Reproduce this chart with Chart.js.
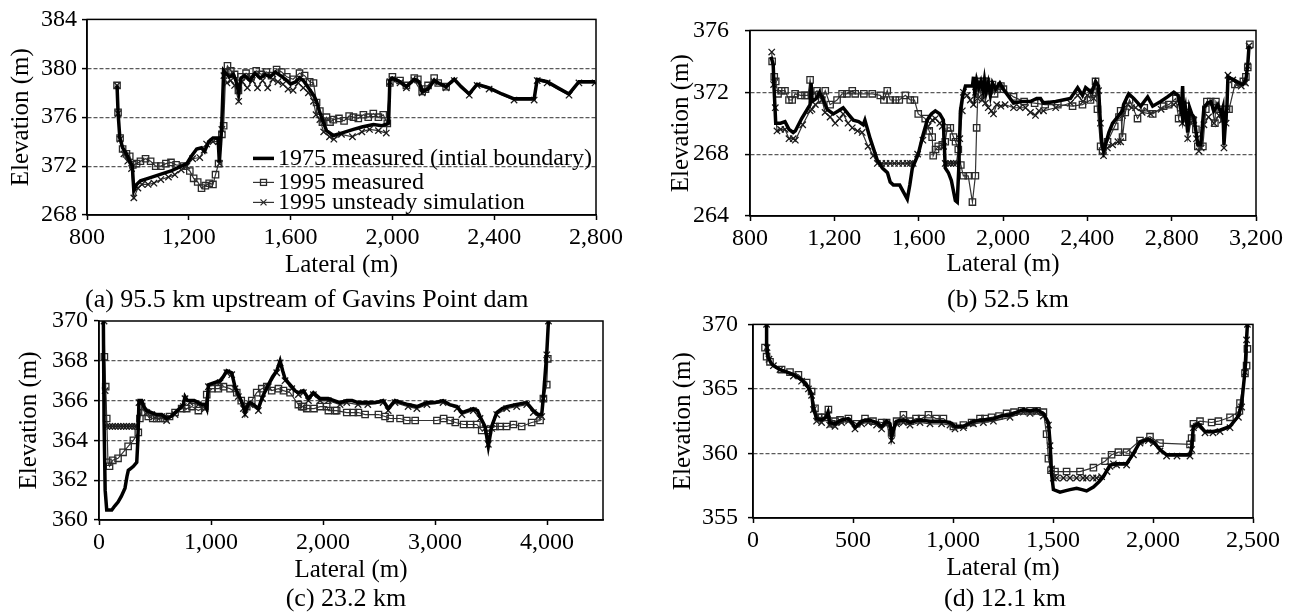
<!DOCTYPE html>
<html>
<head>
<meta charset="utf-8">
<script src="https://cdn.jsdelivr.net/npm/chart.js@4.4.0/dist/chart.umd.min.js"></script>
<style>
  body { margin:0; background:#fff; width:1291px; height:615px; position:relative; overflow:hidden; font-family:'Liberation Serif','Times New Roman',serif; }
  canvas { position:absolute; }
  .cap { position:absolute; font-size:26px; line-height:30px; white-space:nowrap; color:#000; }
</style>
</head>
<body>
<canvas id="chartA" width="645" height="300" style="left:0;top:0"></canvas>
<canvas id="chartB" width="646" height="300" style="left:645px;top:0"></canvas>
<canvas id="chartC" width="645" height="315" style="left:0;top:300px"></canvas>
<canvas id="chartD" width="646" height="315" style="left:645px;top:300px"></canvas>
<div class="cap" style="left:85px;top:284px">(a) 95.5 km upstream of Gavins Point dam</div>
<div class="cap" style="left:1008px;top:284px;transform:translateX(-50%)">(b) 52.5 km</div>
<div class="cap" style="left:346px;top:583px;transform:translateX(-50%)">(c) 23.2 km</div>
<div class="cap" style="left:1005px;top:583px;transform:translateX(-50%)">(d) 12.1 km</div>
<script>
const seriesNames = ['1975 measured (intial boundary)', '1995 measured', '1995 unsteady simulation'];

// (a) 95.5 km
const xTicksA = [800, 1200, 1600, 2000, 2400, 2800];
const yTicksA = [368, 372, 376, 380, 384];
const yLabelsA = ['268', '372', '376', '380', '384'];
const a1975 = [[918,378.6],[922,376.4],[929,374.3],[940,373.5],[955,373.0],[968,372.4],[978,372.0],[984,370.0],[995,370.5],[1010,370.8],[1040,371.0],[1070,371.2],[1100,371.4],[1130,371.6],[1160,371.9],[1192,372.2],[1210,372.8],[1231,373.4],[1250,373.5],[1262,373.2],[1278,374.0],[1295,374.3],[1315,374.3],[1320,372.3],[1329,375.1],[1337,379.8],[1345,379.6],[1360,379.3],[1375,379.5],[1385,379.0],[1396,378.0],[1405,379.2],[1420,379.4],[1440,379.0],[1460,379.6],[1480,379.2],[1500,379.5],[1520,379.3],[1540,379.7],[1560,379.4],[1580,379.1],[1600,378.7],[1620,378.9],[1635,379.2],[1650,379.0],[1670,378.4],[1690,377.8],[1702,377.3],[1713,376.5],[1725,375.8],[1741,374.9],[1768,374.5],[1800,374.7],[1847,375.0],[1880,375.2],[1925,375.4],[1960,375.3],[1985,375.5],[1990,379.0],[1999,379.2],[2030,378.9],[2055,378.5],[2086,379.1],[2105,378.9],[2117,378.1],[2140,378.3],[2164,379.0],[2190,378.7],[2211,378.5],[2243,379.1],[2270,378.5],[2302,377.9],[2333,378.7],[2380,378.4],[2430,377.9],[2478,377.5],[2530,377.5],[2557,377.5],[2569,379.1],[2608,378.9],[2650,378.4],[2694,377.9],[2733,378.9],[2796,378.9]];
const a1995 = [[918,378.6],[922,376.4],[930,374.3],[940,373.4],[955,373.0],[968,372.8],[980,372.1],[995,372.2],[1010,372.4],[1030,372.6],[1050,372.4],[1070,372.0],[1090,372.0],[1110,372.2],[1130,372.3],[1150,372.1],[1180,372.0],[1204,371.6],[1219,371.0],[1235,370.7],[1250,370.2],[1265,370.4],[1280,370.6],[1295,370.5],[1305,371.3],[1317,372.2],[1330,374.6],[1337,375.3],[1345,379.7],[1352,380.2],[1365,379.8],[1380,379.5],[1395,378.2],[1405,379.3],[1425,379.6],[1445,379.3],[1465,379.8],[1485,379.5],[1505,379.7],[1525,379.4],[1545,379.9],[1565,379.7],[1585,379.3],[1610,379.1],[1635,379.6],[1655,379.4],[1675,378.9],[1690,378.8],[1702,377.2],[1715,376.5],[1725,375.6],[1741,376.0],[1755,375.6],[1768,375.8],[1790,375.9],[1810,375.7],[1830,376.1],[1847,376.0],[1866,375.9],[1886,376.2],[1905,376.0],[1925,376.3],[1945,376.0],[1964,376.2],[1980,375.5],[1990,378.8],[2000,379.3],[2030,379.0],[2055,378.6],[2086,379.2],[2100,379.1],[2117,378.1],[2130,378.3],[2140,378.6],[2164,379.2],[2180,378.8],[2211,378.5]];
const aSim = [[918,378.6],[922,376.3],[930,374.2],[945,373.0],[960,372.4],[975,371.8],[984,369.4],[1000,370.2],[1016,370.5],[1040,370.5],[1063,370.6],[1090,370.9],[1120,371.1],[1145,371.3],[1170,371.7],[1192,372.0],[1215,372.6],[1243,372.7],[1260,373.3],[1270,373.8],[1295,374.0],[1317,374.0],[1321,372.2],[1330,375.0],[1338,379.4],[1350,378.8],[1365,379.0],[1380,378.6],[1396,377.3],[1410,378.9],[1430,378.4],[1450,379.0],[1470,378.4],[1490,379.0],[1510,378.4],[1530,379.1],[1550,378.9],[1570,378.7],[1590,378.3],[1610,378.2],[1630,378.8],[1650,378.4],[1670,378.0],[1690,377.3],[1700,376.2],[1715,375.8],[1730,374.8],[1753,374.4],[1770,374.2],[1800,374.6],[1843,374.4],[1880,374.8],[1910,375.0],[1945,374.9],[1976,374.7],[1990,378.9],[2000,379.1],[2030,378.8],[2055,378.4],[2086,379.0],[2117,378.0],[2164,378.9],[2211,378.4],[2243,379.0],[2302,377.8],[2333,378.6],[2380,378.3],[2478,377.4],[2557,377.4],[2569,379.0],[2608,378.8],[2694,377.8],[2733,378.8],[2796,378.8]];

// (b) 52.5 km
const xTicksB = [800, 1200, 1600, 2000, 2400, 2800, 3200];
const yTicksB = [364, 368, 372, 376];
const yLabelsB = ['264', '268', '372', '376'];
const b1975 = [[900,374.3],[910,373.8],[915,372.0],[922,370.0],[945,370.0],[966,370.1],[985,369.6],[1005,369.4],[1015,369.5],[1045,370.3],[1085,371.2],[1090,372.6],[1095,371.4],[1115,371.6],[1130,372.0],[1142,371.7],[1166,370.9],[1195,370.6],[1220,370.8],[1242,371.0],[1265,370.6],[1290,370.2],[1315,370.1],[1337,369.9],[1345,370.2],[1370,369.0],[1404,367.6],[1428,367.1],[1452,366.8],[1465,366.2],[1480,366.0],[1510,366.0],[1530,365.5],[1546,365.1],[1558,366.0],[1570,367.1],[1598,368.0],[1620,369.2],[1641,370.2],[1660,370.6],[1679,370.8],[1700,370.6],[1717,370.2],[1722,368.5],[1726,367.1],[1741,366.8],[1755,366.3],[1774,365.0],[1783,364.9],[1790,367.0],[1798,370.8],[1808,371.7],[1822,372.4],[1840,372.4],[1855,372.4],[1860,373.0],[1866,372.0],[1875,372.8],[1885,372.3],[1895,372.7],[1905,372.1],[1912,372.8],[1920,372.0],[1930,372.6],[1940,371.8],[1950,372.6],[1965,372.2],[1985,372.6],[2002,372.2],[2050,371.3],[2090,371.4],[2130,371.4],[2160,371.6],[2178,371.6],[2192,371.3],[2250,371.4],[2320,371.6],[2354,372.3],[2377,371.8],[2392,372.3],[2420,372.0],[2439,372.7],[2453,372.4],[2460,370.5],[2468,368.8],[2477,368.2],[2490,368.8],[2502,369.4],[2520,370.0],[2543,370.4],[2567,370.8],[2572,371.2],[2596,371.9],[2620,371.6],[2653,371.1],[2686,371.7],[2710,371.1],[2748,371.4],[2780,371.7],[2810,372.0],[2830,371.8],[2845,370.8],[2852,372.4],[2857,370.5],[2865,371.0],[2876,369.4],[2885,371.0],[2895,370.6],[2905,370.4],[2915,369.5],[2924,368.6],[2938,368.6],[2953,371.0],[2970,371.3],[2986,371.4],[3000,370.8],[3019,371.2],[3035,370.6],[3043,371.0],[3048,368.6],[3055,370.0],[3062,371.0],[3067,373.0],[3080,372.9],[3095,372.8],[3120,372.6],[3137,372.5],[3152,372.8],[3161,373.8],[3167,375.0]];
const b1995 = [[905,374.0],[915,373.0],[922,372.7],[933,371.9],[950,372.1],[966,372.1],[985,371.5],[1000,371.5],[1014,371.9],[1040,371.8],[1061,371.8],[1075,371.8],[1085,372.8],[1095,371.8],[1118,372.1],[1140,371.5],[1157,372.1],[1180,371.2],[1213,371.5],[1237,371.9],[1260,371.9],[1285,372.1],[1299,371.9],[1340,371.9],[1380,371.9],[1418,371.8],[1435,371.5],[1451,372.1],[1465,371.5],[1490,371.5],[1508,371.5],[1537,371.8],[1560,371.5],[1580,371.5],[1598,370.6],[1631,370.3],[1650,369.5],[1664,369.1],[1669,367.9],[1680,368.3],[1693,368.5],[1712,368.6],[1726,368.8],[1736,369.7],[1750,369.7],[1765,369.1],[1775,368.8],[1788,368.3],[1800,367.3],[1812,366.6],[1835,366.6],[1855,364.9],[1869,366.6],[1875,369.7],[1883,372.7],[1893,372.3],[1908,372.7],[1921,372.7],[1935,372.1],[1950,372.5],[1960,371.9],[1973,372.2],[1990,372.4],[2002,372.2],[2050,371.7],[2100,371.4],[2150,371.3],[2200,371.2],[2260,371.2],[2330,371.1],[2377,371.2],[2415,371.5],[2430,372.0],[2439,372.7],[2448,370.9],[2463,368.5],[2472,368.2],[2496,368.8],[2530,369.8],[2550,370.4],[2558,370.8],[2567,369.1],[2580,370.7],[2600,371.5],[2638,370.3],[2670,371.0],[2710,370.6],[2762,371.1],[2786,371.2],[2820,371.6],[2833,370.3],[2843,371.0],[2867,371.1],[2876,370.3],[2900,370.2],[2915,369.6],[2924,368.5],[2948,368.5],[2962,370.9],[2967,371.4],[2985,371.4],[3005,370.0],[3010,371.4],[3030,370.9],[3048,370.3],[3060,370.9],[3072,370.9],[3100,372.5],[3140,372.7],[3152,373.0],[3161,373.6],[3171,375.1]];
const bSim = [[903,374.6],[912,372.5],[920,371.0],[928,369.5],[945,369.6],[966,369.6],[985,369.0],[1005,369.0],[1015,368.9],[1050,369.9],[1085,370.8],[1094,370.9],[1110,371.2],[1142,371.5],[1156,370.7],[1180,370.4],[1204,370.0],[1225,370.3],[1242,370.6],[1265,370.0],[1285,369.7],[1310,369.5],[1332,369.4],[1360,368.5],[1385,367.9],[1404,367.4],[1425,367.4],[1445,367.4],[1465,367.4],[1485,367.4],[1505,367.4],[1525,367.4],[1545,367.4],[1560,367.4],[1574,367.4],[1595,368.0],[1620,368.9],[1645,369.8],[1665,370.2],[1679,370.3],[1700,370.0],[1712,369.8],[1718,368.5],[1726,367.4],[1740,367.4],[1752,367.4],[1765,367.4],[1779,367.4],[1795,369.0],[1807,370.8],[1812,372.0],[1830,371.8],[1845,371.5],[1860,371.2],[1870,372.0],[1880,371.6],[1890,372.3],[1900,371.5],[1910,372.0],[1917,371.3],[1930,371.0],[1945,370.8],[1955,370.6],[1970,371.2],[1990,371.1],[2010,371.2],[2050,371.0],[2080,371.0],[2107,371.0],[2130,370.7],[2154,370.5],[2170,370.8],[2192,370.8],[2250,371.0],[2320,371.3],[2354,371.8],[2380,371.4],[2400,371.8],[2430,371.6],[2453,372.1],[2462,370.0],[2477,367.9],[2495,368.4],[2520,368.6],[2545,368.8],[2558,368.8],[2567,370.5],[2591,371.2],[2610,371.0],[2629,371.0],[2660,370.7],[2700,370.6],[2750,370.9],[2810,371.2],[2840,371.6],[2850,370.0],[2865,370.6],[2876,369.0],[2890,370.0],[2905,370.2],[2918,369.0],[2929,368.2],[2940,368.4],[2953,369.9],[2975,370.4],[3001,370.0],[3025,370.5],[3040,370.2],[3048,368.4],[3058,370.0],[3067,373.1],[3090,372.8],[3110,372.5],[3130,372.4],[3150,372.6],[3161,373.7],[3167,375.0]];

// (c) 23.2 km
const xTicksC = [0, 1000, 2000, 3000, 4000];
const yTicksC = [360, 362, 364, 366, 368, 370];
const yLabelsC = ['360', '362', '364', '366', '368', '370'];
const c1975 = [[39,370],[45,365],[55,361.5],[69,360.5],[114,360.5],[140,360.7],[170,360.9],[200,361.2],[232,361.6],[250,362.2],[262,362.5],[285,362.6],[307,362.7],[337,362.9],[347,364.0],[357,366.0],[381,366.0],[400,365.7],[426,365.5],[470,365.4],[515,365.3],[560,365.3],[604,365.1],[640,365.2],[679,365.4],[720,365.6],[753,365.8],[768,366.2],[790,366.0],[813,366.0],[850,366.0],[887,365.9],[920,365.8],[947,365.8],[962,365.6],[977,366.8],[1030,366.9],[1081,367.0],[1110,367.2],[1141,367.5],[1185,367.4],[1214,366.7],[1244,366.3],[1270,366.0],[1289,365.7],[1304,365.4],[1330,365.8],[1349,365.9],[1380,365.8],[1423,365.6],[1460,366.2],[1512,366.8],[1550,367.2],[1587,367.5],[1617,368.0],[1640,367.5],[1661,367.1],[1690,366.9],[1721,366.7],[1750,366.5],[1780,366.4],[1825,366.5],[1870,366.1],[1914,366.4],[1974,366.1],[2047,366.1],[2100,366.0],[2152,365.9],[2212,366.0],[2260,366.0],[2313,365.9],[2400,365.9],[2470,365.9],[2537,366.0],[2582,365.6],[2643,366.0],[2700,365.9],[2760,365.8],[2838,365.7],[2928,365.9],[3000,365.9],[3072,366.0],[3130,365.8],[3197,365.7],[3240,365.4],[3290,365.5],[3342,365.6],[3380,365.5],[3402,365.2],[3447,364.7],[3476,363.7],[3506,364.7],[3551,365.4],[3600,365.6],[3640,365.7],[3729,365.8],[3819,365.9],[3878,365.5],[3923,365.3],[3953,365.3],[3968,366.2],[3998,368.4],[4013,370]];
const c1995 = [[48,368.2],[60,366.7],[69,365.1],[80,362.9],[94,362.7],[123,363.0],[170,363.1],[215,363.4],[260,363.7],[307,364.0],[351,364.4],[365,365.1],[381,365.7],[410,365.4],[440,365.2],[480,365.1],[515,365.1],[550,365.1],[589,365.1],[630,365.2],[679,365.4],[738,365.6],[783,365.6],[830,365.7],[887,365.5],[947,365.7],[962,366.3],[1006,366.6],[1066,366.6],[1111,366.7],[1170,366.6],[1230,366.4],[1270,366.0],[1319,365.7],[1364,366.0],[1408,366.4],[1453,366.6],[1498,366.7],[1542,366.5],[1602,366.6],[1647,366.5],[1706,366.4],[1780,365.8],[1810,365.7],[1825,365.7],[1855,365.6],[1920,365.6],[1974,365.7],[2033,365.7],[2048,365.5],[2107,365.5],[2122,365.5],[2212,365.4],[2271,365.4],[2316,365.4],[2376,365.3],[2495,365.3],[2554,365.2],[2599,365.1],[2688,365.1],[2748,365.0],[2823,365.0],[3017,365.0],[3077,365.1],[3136,365.0],[3181,364.9],[3255,364.8],[3315,364.8],[3374,364.8],[3417,364.5],[3476,364.5],[3536,364.7],[3580,364.7],[3640,364.7],[3700,364.8],[3774,364.7],[3863,364.9],[3938,365.0],[3968,366.1],[3998,366.8],[4007,368.1]];
const cSim = [[45,370],[55,366.5],[69,364.7],[95,364.7],[120,364.7],[145,364.7],[170,364.7],[195,364.7],[220,364.7],[245,364.7],[270,364.7],[295,364.7],[320,364.7],[337,364.7],[357,365.9],[381,365.9],[426,365.4],[470,365.3],[515,365.2],[560,365.2],[604,365.0],[679,365.3],[753,365.7],[768,366.1],[813,365.9],[887,365.8],[947,365.6],[977,366.7],[1081,366.9],[1141,367.4],[1185,367.3],[1214,366.6],[1244,366.2],[1289,365.6],[1304,365.3],[1349,365.8],[1423,365.5],[1460,366.1],[1512,366.7],[1587,367.4],[1617,367.9],[1661,367.0],[1721,366.6],[1780,366.3],[1825,366.4],[1870,366.0],[1914,366.3],[1974,366.0],[2047,366.0],[2152,365.8],[2212,365.9],[2313,365.8],[2400,365.8],[2537,365.9],[2582,365.5],[2643,365.9],[2760,365.7],[2838,365.6],[2928,365.8],[3072,365.9],[3197,365.6],[3240,365.3],[3342,365.5],[3402,365.1],[3447,364.6],[3476,363.8],[3506,364.6],[3551,365.3],[3640,365.6],[3729,365.7],[3819,365.8],[3878,365.4],[3923,365.2],[3953,365.2],[3968,366.1],[3998,368.3],[4013,370]];

// (d) 12.1 km
const xTicksD = [0, 500, 1000, 1500, 2000, 2500];
const yTicksD = [355, 360, 365, 370];
const yLabelsD = ['355', '360', '365', '370'];
const d1975 = [[68,370],[68,368.5],[75,367.5],[90,367.0],[102,366.8],[135,366.5],[170,366.3],[202,366.1],[225,365.9],[243,365.7],[262,365.4],[277,365.1],[293,364.6],[302,363.5],[318,362.7],[343,362.6],[365,362.8],[375,363.2],[383,362.4],[410,362.3],[443,362.6],[477,362.7],[495,362.4],[510,362.0],[543,362.5],[577,362.6],[618,362.4],[643,362.1],[668,362.5],[685,362.3],[693,361.3],[705,362.0],[718,362.5],[752,362.6],[785,362.4],[835,362.6],[885,362.5],[943,362.5],[985,362.4],[1010,362.1],[1052,362.1],[1102,362.5],[1152,362.6],[1202,362.7],[1240,362.9],[1285,363.0],[1320,363.2],[1352,363.4],[1385,363.3],[1418,363.4],[1452,363.1],[1477,362.4],[1485,360.9],[1493,358.4],[1502,357.2],[1535,357.0],[1560,357.1],[1585,357.2],[1618,357.3],[1645,357.2],[1668,357.1],[1702,357.4],[1730,357.8],[1752,358.2],[1785,359.1],[1818,359.2],[1868,359.2],[1902,360.0],[1935,360.9],[1977,361.1],[2002,360.9],[2035,360.3],[2068,359.9],[2120,359.9],[2185,359.9],[2193,360.4],[2202,362.1],[2227,362.3],[2260,361.7],[2300,361.7],[2335,361.8],[2385,362.1],[2427,362.9],[2443,363.8],[2460,366.4],[2468,368.9],[2472,370]];
const d1995 = [[60,368.2],[68,367.5],[85,367.1],[143,366.5],[185,366.3],[227,366.1],[268,365.5],[293,364.8],[310,363.5],[327,362.8],[343,362.8],[360,362.8],[377,363.4],[393,362.3],[410,362.5],[435,362.6],[477,362.7],[518,362.3],[560,362.7],[600,362.5],[643,362.4],[668,362.4],[693,361.6],[718,362.5],[752,363.0],[785,362.5],[815,362.7],[843,362.7],[877,363.0],[915,362.7],[952,362.7],[1002,362.1],[1052,362.2],[1093,362.4],[1135,362.7],[1160,362.7],[1193,362.8],[1230,362.9],[1268,363.1],[1305,363.2],[1343,363.3],[1385,363.3],[1420,363.3],[1452,363.2],[1468,361.5],[1477,359.6],[1490,358.7],[1510,358.6],[1568,358.6],[1635,358.6],[1702,358.9],[1760,359.4],[1793,359.9],[1827,360.1],[1868,360.1],[1935,361.0],[1985,361.3],[2035,360.8],[2185,360.7],[2193,361.2],[2202,362.3],[2235,362.5],[2293,362.4],[2327,362.5],[2385,362.8],[2432,363.3],[2435,363.9],[2460,366.2],[2468,366.8],[2472,368.1]];
const dSim = [[68,370],[70,368.2],[80,367.3],[102,366.8],[135,366.5],[202,366.0],[243,365.6],[277,365.0],[293,364.5],[302,363.4],[318,362.5],[343,362.4],[375,363.0],[383,362.2],[410,362.1],[443,362.4],[477,362.5],[510,361.9],[543,362.3],[577,362.4],[618,362.2],[643,361.9],[668,362.3],[693,361.0],[718,362.3],[752,362.4],[785,362.2],[835,362.4],[885,362.3],[943,362.3],[985,362.2],[1010,361.9],[1052,362.0],[1102,362.3],[1152,362.4],[1202,362.5],[1285,362.8],[1352,363.2],[1385,363.1],[1418,363.2],[1452,362.9],[1477,362.2],[1485,360.6],[1493,358.8],[1502,358.1],[1518,358.1],[1552,358.1],[1585,358.1],[1618,358.1],[1650,358.1],[1668,358.1],[1700,358.1],[1718,358.1],[1743,358.2],[1770,358.6],[1785,359.0],[1802,359.2],[1818,359.1],[1868,359.1],[1902,359.9],[1935,360.8],[1977,361.0],[2002,360.8],[2035,360.2],[2068,359.8],[2120,359.8],[2185,359.8],[2193,360.3],[2202,362.0],[2227,362.1],[2260,361.6],[2300,361.6],[2335,361.7],[2385,362.0],[2427,362.8],[2443,363.6],[2460,366.3],[2468,368.8],[2472,370]];

Chart.defaults.font.family = "'Liberation Serif', 'Times New Roman', serif";
Chart.defaults.color = '#000';

const pts = arr => arr.map(([x, y]) => ({ x, y }));

function makeDatasets(m75, m95, sim) {
  return [
    { label: seriesNames[0], data: pts(m75), showLine: true, borderColor: '#000', borderWidth: 3.5, pointRadius: 0, pointHoverRadius: 0 },
    { label: seriesNames[1], data: pts(m95), showLine: true, borderColor: '#333', borderWidth: 1.2, pointStyle: 'rect', pointRadius: 4.5, pointBorderColor: '#2a2a2a', pointBackgroundColor: 'rgba(0,0,0,0)', pointBorderWidth: 1.3 },
    { label: seriesNames[2], data: pts(sim), showLine: true, borderColor: '#333', borderWidth: 1.2, pointStyle: 'crossRot', pointRadius: 4.5, pointBorderColor: '#1a1a1a', pointBorderWidth: 1.3 }
  ];
}

// box round the plot area
const framePlugin = {
  id: 'frame',
  afterDraw(chart) {
    const { ctx, chartArea: a } = chart;
    ctx.save();
    ctx.strokeStyle = '#000';
    ctx.lineWidth = 1.5;
    ctx.strokeRect(a.left, a.top, a.right - a.left, a.bottom - a.top);
    ctx.restore();
  }
};

// legend drawn inside panel (a)
const keyPlugin = {
  id: 'key',
  afterDraw(chart) {
    const { ctx, chartArea: a } = chart;
    const x0 = a.left + 166, x1 = a.left + 187, tx = a.left + 191;
    const rows = [a.top + 139, a.top + 163, a.top + 183];
    ctx.save();
    ctx.font = "24px 'Liberation Serif', 'Times New Roman', serif";
    ctx.textBaseline = 'middle';
    ctx.fillStyle = '#000';
    chart.data.datasets.forEach((ds, i) => {
      const y = rows[i], cx = (x0 + x1) / 2;
      ctx.strokeStyle = ds.borderColor;
      ctx.lineWidth = ds.borderWidth;
      ctx.beginPath(); ctx.moveTo(x0, y); ctx.lineTo(x1, y); ctx.stroke();
      ctx.lineWidth = 1.3;
      ctx.strokeStyle = '#2a2a2a';
      if (ds.pointStyle === 'rect') ctx.strokeRect(cx - 3, y - 3, 6, 6);
      if (ds.pointStyle === 'crossRot') {
        ctx.beginPath(); ctx.moveTo(cx - 3, y - 3); ctx.lineTo(cx + 3, y + 3); ctx.moveTo(cx - 3, y + 3); ctx.lineTo(cx + 3, y - 3); ctx.stroke();
      }
      ctx.fillText(ds.label, tx, y);
    });
    ctx.restore();
  }
};

function panel(id, p) {
  const font = { size: 24 };
  const titleFont = { size: 25 };
  const ymin = p.yTicks[0], ymax = p.yTicks[p.yTicks.length - 1];
  new Chart(document.getElementById(id), {
    type: 'scatter',
    data: { datasets: makeDatasets(p.m75, p.m95, p.sim) },
    options: {
      responsive: false,
      animation: false,
      events: [],
      layout: { padding: p.pad },
      plugins: { legend: { display: false }, tooltip: { enabled: false } },
      scales: {
        x: {
          type: 'linear', min: p.xMin, max: p.xMax,
          afterBuildTicks: s => { s.ticks = p.xTicks.map(v => ({ value: v })); },
          afterFit: s => { s.height = p.xh; },
          ticks: { font, color: '#000', padding: 3, maxRotation: 0, autoSkip: false, callback: v => v.toLocaleString('en-US') },
          grid: { drawOnChartArea: false, tickLength: 5, tickColor: '#000', tickWidth: 1.5 },
          border: { color: '#000', width: 1.5 },
          title: { display: true, text: 'Lateral (m)', font: titleFont, color: '#000', padding: 0 }
        },
        y: {
          type: 'linear', min: ymin, max: ymax,
          afterBuildTicks: s => { s.ticks = p.yTicks.map(v => ({ value: v })); },
          afterFit: s => { s.width = p.yw; },
          ticks: { font, color: '#000', padding: p.ypad, autoSkip: false, callback: (v, i) => p.yLabels[i] },
          grid: {
            color: c => (c.tick && (c.tick.value === ymin || c.tick.value === ymax)) ? 'rgba(0,0,0,0)' : '#5a5a5a',
            lineWidth: 1.2, tickLength: 5, tickColor: '#000', tickWidth: 1.5
          },
          border: { color: '#000', width: 1.5, dash: [4, 2] },
          title: { display: true, text: 'Elevation (m)', font: titleFont, color: '#000', padding: 0 }
        }
      }
    },
    plugins: p.key ? [framePlugin, keyPlugin] : [framePlugin]
  });
}

panel('chartA', { m75: a1975, m95: a1995, sim: aSim, xMin: 800, xMax: 2800, xTicks: xTicksA, yTicks: yTicksA, yLabels: yLabelsA,
  pad: { left: 6, right: 49, top: 17, bottom: 20 }, yw: 81, xh: 65, ypad: 5, key: true });
panel('chartB', { m75: b1975, m95: b1995, sim: bSim, xMin: 800, xMax: 3200, xTicks: xTicksB, yTicks: yTicksB, yLabels: yLabelsB,
  pad: { left: 21, right: 35, top: 17, bottom: 21 }, yw: 84, xh: 63, ypad: 16 });
panel('chartC', { m75: c1975, m95: c1995, sim: cSim, xMin: 0, xMax: 4500, xTicks: xTicksC, yTicks: yTicksC, yLabels: yLabelsC,
  pad: { left: 14, right: 42, top: 21, bottom: 30 }, yw: 85, xh: 65, ypad: 6 });
panel('chartD', { m75: d1975, m95: d1995, sim: dSim, xMin: 0, xMax: 2500, xTicks: xTicksD, yTicks: yTicksD, yLabels: yLabelsD,
  pad: { left: 23, right: 38, top: 19, bottom: 32 }, yw: 85, xh: 65, ypad: 10 });
</script>
</body>
</html>
